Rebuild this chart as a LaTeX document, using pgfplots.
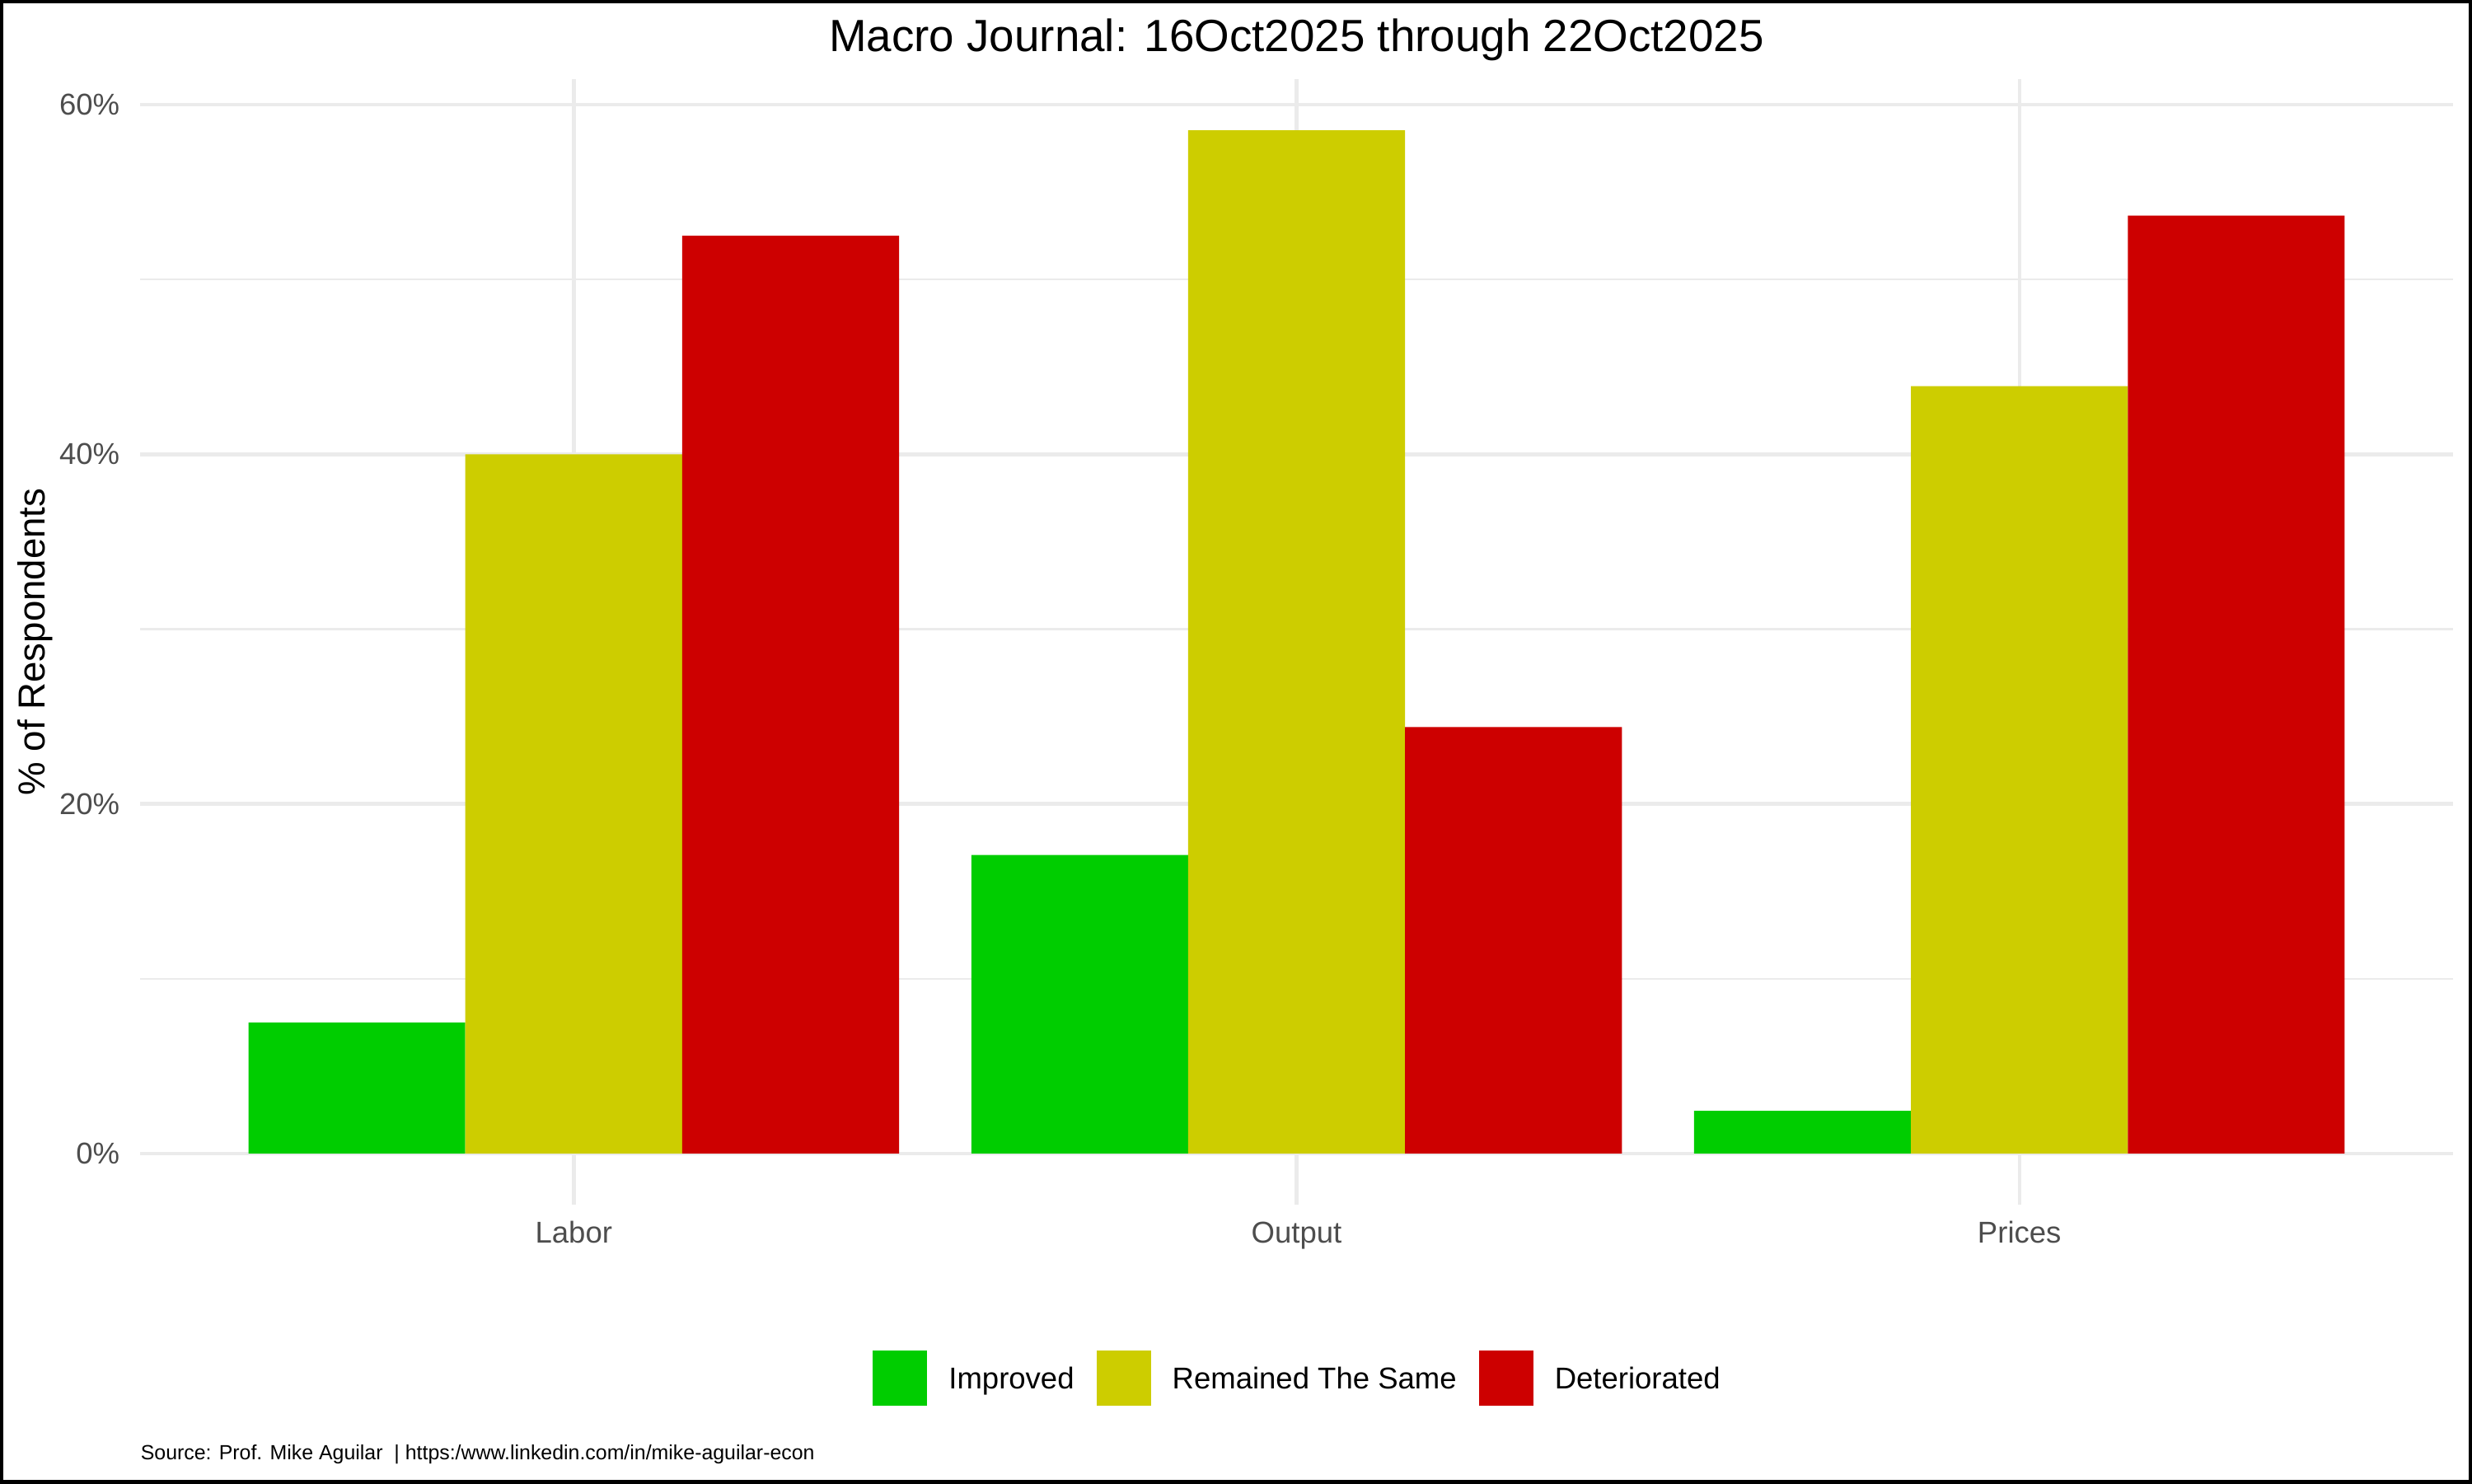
\documentclass[border=0pt]{standalone}
\usepackage{fontspec}
\setmainfont{Liberation Sans}
\usepackage{pgfplots}
\pgfplotsset{compat=1.18}
\definecolor{green3}{HTML}{00CD00}
\definecolor{yellow3}{HTML}{CDCD00}
\definecolor{red3}{HTML}{CD0000}
\definecolor{gray30}{HTML}{4D4D4D}
\definecolor{gray92}{HTML}{EBEBEB}
\begin{document}
\begin{tikzpicture}[x=1pt,y=1pt]
\useasboundingbox (0,0) rectangle (723,433.8);
\fill[white] (0,0) rectangle (723,433.8);
\begin{axis}[
  at={(40.97pt,81.46pt)}, anchor=south west,
  scale only axis, width=676.49pt, height=329.21pt,
  xmin=0.4, xmax=3.6, ymin=-2.927, ymax=61.464,
  xtick={1,2,3}, xticklabels={Labor,Output,Prices},
  ytick={0,20,40,60}, yticklabels={0\%,20\%,40\%,60\%},
  minor ytick={10,30,50},
  xmajorgrids, ymajorgrids, yminorgrids,
  major grid style={color=gray92, line width=1.07pt},
  minor grid style={color=gray92, line width=0.53pt},
  axis line style={draw=none},
  major tick length=0pt, minor tick length=0pt,
  tick style={draw=none},
  /pgf/number format/assume math mode=true,
  tick label style={font=\fontsize{8.8}{10}\selectfont, text=gray30},
  xticklabel style={anchor=base, inner ysep=0pt, yshift=-11.09pt},
  yticklabel style={anchor=east, inner xsep=0pt, xshift=-5.78pt},
  title={Macro Journal: 16Oct2025 through 22Oct2025},
  title style={at={(axis description cs:0.5,1.02415)}, anchor=base, yshift=-6pt, inner sep=0pt, font=\fontsize{13.2}{15}\selectfont},
  ylabel={\% of Respondents},
  ylabel style={at={(axis description cs:-0.04098,0.5)}, anchor=base, inner sep=0pt, font=\fontsize{11}{13}\selectfont},
  legend columns=3,
  legend image code/.code={\fill[#1] (0pt,-8.05pt) rectangle (15.9pt,8.05pt);},
  legend style={draw=none, fill=none, at={(axis description cs:0.5,-0.1541)}, anchor=center,
    font=\fontsize{8.8}{10}\selectfont,
    nodes={inner xsep=0pt, inner ysep=0pt, text height=6.3pt, text depth=0pt},
    /tikz/every odd column/.append style={column sep=6.3pt},
    /tikz/every even column/.append style={column sep=6.5pt}},
]
\addplot[ybar, bar width=0.3, bar shift=-0.3, fill=green3, draw=none] coordinates {(1,7.5) (2,17.073) (3,2.439)};
\addlegendentry{Improved}
\addplot[ybar, bar width=0.3, bar shift=0, fill=yellow3, draw=none] coordinates {(1,40.0) (2,58.537) (3,43.902)};
\addlegendentry{Remained The Same}
\addplot[ybar, bar width=0.3, bar shift=0.3, fill=red3, draw=none] coordinates {(1,52.5) (2,24.390) (3,53.659)};
\addlegendentry{Deteriorated}
\end{axis}
\node[anchor=base west, inner sep=0pt, font=\fontsize{6}{7}\selectfont] at (40.97,6.75) {Source: Prof. Mike Aguilar~~| https:/www.linkedin.com/in/mike-aguilar-econ};
\draw[line width=1.8pt] (0,0) rectangle (723,433.8);
\end{tikzpicture}
\end{document}
